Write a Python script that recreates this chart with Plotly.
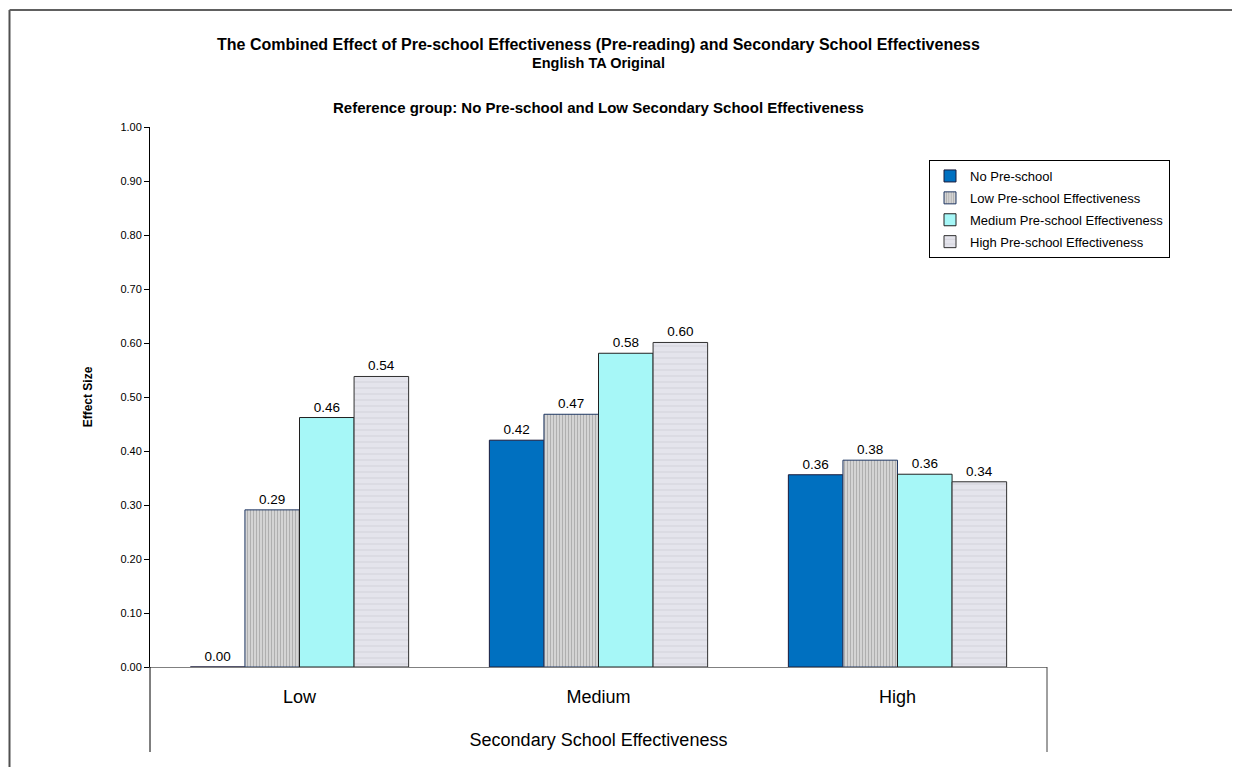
import plotly.graph_objects as go

categories = ["Low", "Medium", "High"]
series_names = [
    "No Pre-school",
    "Low Pre-school Effectiveness",
    "Medium Pre-school Effectiveness",
    "High Pre-school Effectiveness",
]
no_preschool = [0.00, 0.42, 0.356]
low_preschool = [0.291, 0.468, 0.383]
medium_preschool = [0.462, 0.581, 0.357]
high_preschool = [0.538, 0.601, 0.343]

y_ticks = [0, 0.1, 0.2, 0.3, 0.4, 0.5, 0.6, 0.7, 0.8, 0.9, 1.0]

FONT = "Arial, Liberation Sans, sans-serif"

styles = [
    dict(color="#0070C0", line=dict(color="#1a1a3a", width=1)),
    dict(color="#C8C8C8", line=dict(color="#203864", width=1),
         pattern=dict(shape="|", fgcolor="#8a8a8a", bgcolor="#D4D4D4", size=3, solidity=0.35)),
    dict(color="#A6F7F7", line=dict(color="#202020", width=1)),
    dict(color="#E2E2EA", line=dict(color="#303030", width=1),
         pattern=dict(shape="-", fgcolor="#C4C4CC", bgcolor="#E4E4EC", size=6, solidity=0.2)),
]

fig = go.Figure()
for i, (name, vals, st) in enumerate(zip(series_names,
                                         [no_preschool, low_preschool, medium_preschool, high_preschool],
                                         styles)):
    fig.add_trace(go.Bar(
        x=categories, y=vals, name=name, legendgroup=f"g{i}",
        marker=st,
        texttemplate="%{y:.2f}", textposition="outside",
        textfont=dict(family=FONT, size=13.5, color="black"),
        cliponaxis=False,
    ))

# page body has an 8px margin, so figure is sized/offset accordingly
fig.update_layout(
    width=1232, height=759,
    margin=dict(l=142, r=193, t=119, b=100),
    paper_bgcolor="white", plot_bgcolor="white",
    font=dict(family=FONT, color="black"),
    barmode="group", bargap=0.27, bargroupgap=0,
    showlegend=True,
    legend=dict(x=(929 - 150) / 897, y=(667 - 160) / 540, xanchor="left", yanchor="top",
                bordercolor="black", borderwidth=1, tracegroupgap=2,
                traceorder="grouped",
                font=dict(family=FONT, size=13, color="black"),
                bgcolor="white"),
    xaxis=dict(
        showline=True, linecolor="#808080", linewidth=1,
        ticks="", ticklabelstandoff=13,
        tickfont=dict(family=FONT, size=18),
        title=dict(text="Secondary School Effectiveness",
                   font=dict(family=FONT, size=18), standoff=27),
    ),
    yaxis=dict(
        range=[0, 1], tickvals=y_ticks, tickformat=".2f",
        showline=True, linecolor="black", linewidth=1,
        ticks="outside", ticklen=5, tickcolor="black",
        showgrid=False, zeroline=False,
        tickfont=dict(family=FONT, size=11),
        title=dict(text="<b>Effect Size</b>", font=dict(family=FONT, size=12), standoff=25),
    ),
)

# chart titles
titles = [
    ("<b>The Combined Effect of Pre-school Effectiveness (Pre-reading) and Secondary School Effectiveness</b>", 45, 16),
    ("<b>English TA Original</b>", 63, 14.5),
    ("<b>Reference group: No Pre-school and Low Secondary School Effectiveness</b>", 108, 15),
]
for txt, ypx, fs in titles:
    fig.add_annotation(xref="paper", yref="paper", x=0.5, y=(667 - ypx) / 540,
                       xanchor="center", yanchor="middle",
                       text=txt, showarrow=False, font=dict(family=FONT, size=fs))

# category-axis extension lines and outer frame
ext = -(752 - 667) / 540
for xp, col in [(0, "black"), (1, "#404040")]:
    fig.add_shape(type="line", xref="paper", yref="paper", x0=xp, x1=xp, y0=0, y1=ext,
                  line=dict(color=col, width=1))
fx = (9.5 - 150) / 897
fy = (667 - 10) / 540
fig.add_shape(type="line", xref="paper", yref="paper", x0=fx, x1=fx, y0=fy, y1=-0.3,
              line=dict(color="#505050", width=2))
fig.add_shape(type="line", xref="paper", yref="paper", x0=fx, x1=1.3, y0=fy, y1=fy,
              line=dict(color="#606060", width=2))

fig.write_html("out.html")
